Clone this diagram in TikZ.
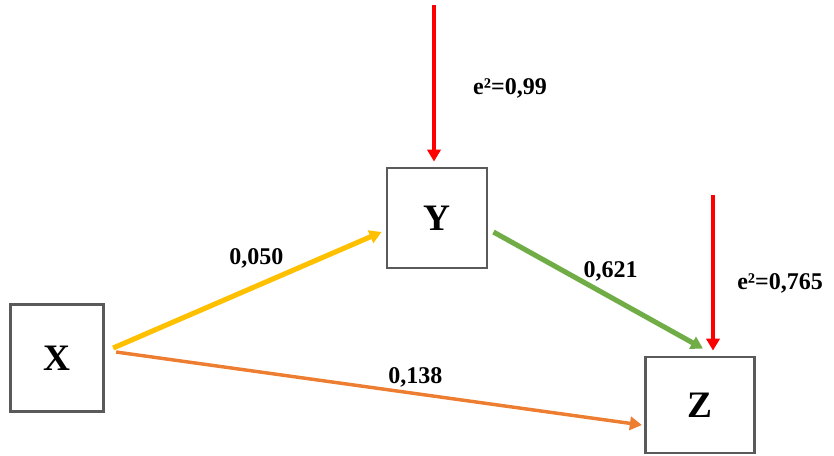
\documentclass[tikz,border=0pt]{standalone}
\usepackage{fontspec}
\setmainfont{Liberation Serif}
\usetikzlibrary{arrows.meta,positioning}
\definecolor{boxgray}{HTML}{5A5A5A}
\definecolor{pathyellow}{HTML}{FFC000}
\definecolor{pathgreen}{HTML}{70AD47}
\definecolor{pathorange}{HTML}{ED7D31}
\definecolor{errred}{HTML}{FF0000}

\begin{document}
\begin{tikzpicture}[
  x=0.75pt, y=-0.75pt,
  var/.style={draw=boxgray, line width=2.2pt, fill=white, inner sep=0pt, font=\fontsize{28}{28}\selectfont\bfseries},
  arr/.style={-{Triangle[length=9pt, width=10pt]}},
  lbl/.style={font=\fontsize{18}{18}\selectfont\bfseries, inner sep=1pt},
  err/.style={arr, errred, line width=2.3pt}
]
\useasboundingbox (0,0) rectangle (834,455);
% variables
\node[var, minimum width=70pt, minimum height=80pt] (X) at (57,358) {X};
\node[var, minimum width=75pt, minimum height=75pt] (Y) at (437,218) {Y};
\node[var, minimum width=82pt, minimum height=72pt] (Z) at (700,405) {Z};
% paths
\draw[arr, pathyellow, line width=3.8pt] ([shift={(8,-10)}]X.east) -- ([shift={(-4,14)}]Y.west)
  node[lbl, black, pos=0.5, shift={(9,-32)}] {0,050};
\draw[arr, pathgreen, line width=3.8pt] ([shift={(5,14)}]Y.east) -- ([shift={(3,-7)}]Z.north)
  node[lbl, black, pos=0.55, shift={(2,-25)}] {0,621};
\draw[arr, pathorange, line width=2.6pt] ([shift={(11,-6)}]X.east) -- ([shift={(-2,20)}]Z.west)
  node[lbl, black, pos=0.55, shift={(10,-15)}] {0,138};
% error terms
\coordinate (eY) at (434,5);
\coordinate (eZ) at (713,195);
\draw[err] (eY) -- ([shift={(-3,-5)}]Y.north);
\draw[err] (eZ) -- ([shift={(13,-5)}]Z.north);
\node[lbl] (lY) at (510,88) {e²=0,99};
\node[lbl] (lZ) at (780,283) {e²=0,765};
\end{tikzpicture}
\end{document}
